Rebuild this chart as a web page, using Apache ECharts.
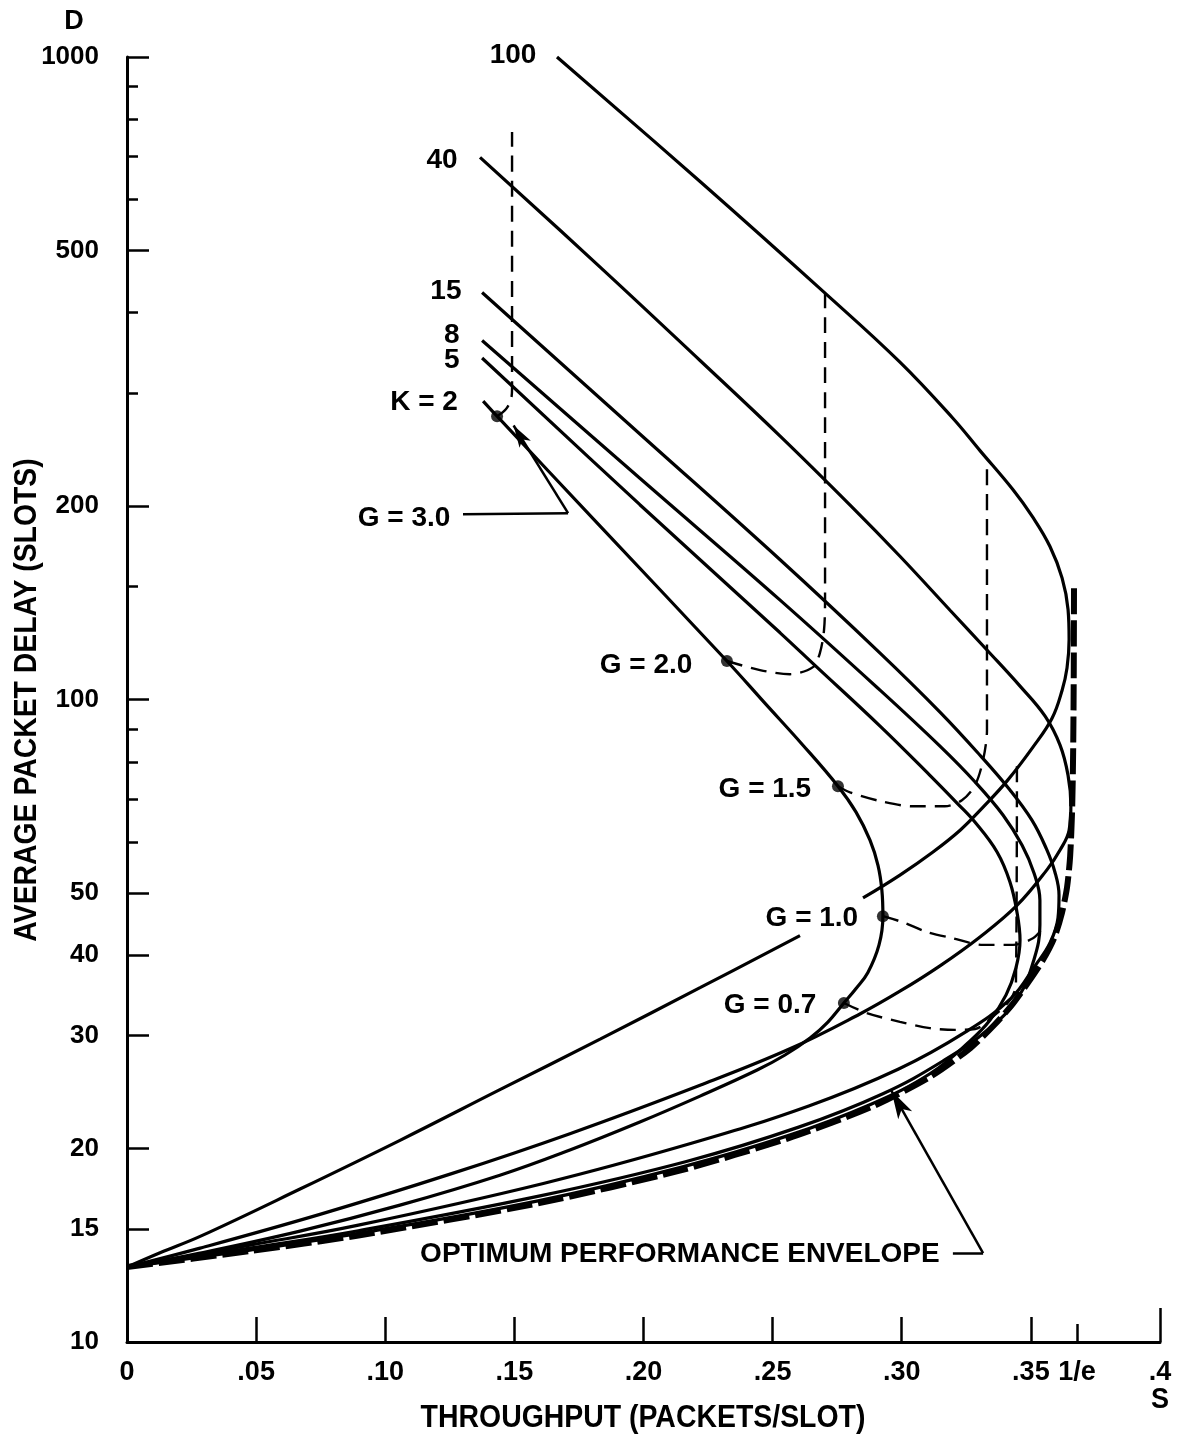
<!DOCTYPE html>
<html><head><meta charset="utf-8">
<script src="https://cdn.jsdelivr.net/npm/echarts@6/dist/echarts.min.js"></script>
<style>html,body{margin:0;padding:0;background:#fff}#c{width:1178px;height:1434px}</style>
</head><body><div id="c"></div>
<script>
// ---------- axis ticks / labels ----------
const X_TICKS = [0.05, 0.10, 0.15, 0.20, 0.25, 0.30, 0.35];
const X_LABEL_VALUES = [0, 0.05, 0.10, 0.15, 0.20, 0.25, 0.30, 0.35, 0.36788, 0.4];
const X_LABEL_TEXT = ['0', '.05', '.10', '.15', '.20', '.25', '.30', '.35', '1/e', '.4'];
const X_INV_E = [0.36788];
const X_END = [0.4];
const Y_MAJOR = [10, 15, 20, 30, 40, 50, 100, 200, 500, 1000];
const Y_MINOR = [60, 70, 80, 90, 150, 300, 400, 600, 700, 800, 900];

// ---------- curves: [S, D] ----------
const K100 = [[0.1665,1000],[0.2219,640],[0.2703,429],[0.2993,335],[0.3198,274],[0.3303,244],[0.3431,212],[0.3508,192],[0.3574,173],[0.3621,154.5],[0.3644,138],[0.3648,124],[0.3640,112],[0.3621,103.4],[0.3582,93.5],[0.3508,84.3],[0.3408,74.7],[0.3315,68.0],[0.3226,62.6],[0.3121,57.9],[0.2993,53.3],[0.2850,49.1],null,[0.2606,42.9],[0.2219,35.6],[0.1832,29.6],[0.1444,24.7],[0.1057,20.6],[0.0670,17.3],[0.0283,14.6],[0.0128,13.77],[0,13.08]];
const K40 = [[0.1367,698],[0.1832,471],[0.2219,337],[0.2529,257],[0.2800,200.7],[0.2993,167.1],[0.3187,137.7],[0.3330,119.4],[0.3458,104.9],[0.3555,94.2],[0.3613,84.9],[0.3644,76.2],[0.3655,68.5],[0.3648,62.6],[0.3613,58.3],[0.3562,54.3],[0.3446,47.8],[0.3303,42.7],[0.3148,38.5],[0.2993,35.15],[0.2838,32.4],[0.2567,28.6],[0.2219,25.1],[0.1715,21.1],[0.1251,18.25],[0.0747,15.8],[0.0283,14.0],[0,13.08]];
const K15 = [[0.1375,430],[0.1986,259],[0.2529,165],[0.2916,118.1],[0.3148,95.6],[0.3303,81.9],[0.3419,72.3],[0.3504,64.9],[0.3559,58.7],[0.3593,53.9],[0.3609,49.6],[0.3605,45.7],[0.3574,41.8],[0.3516,38.5],[0.3424,34.3],[0.3243,30.3],[0.2988,26.6],[0.2640,23.3],[0.2189,20.4],[0.1612,17.65],[0.0896,15.2],[0.0476,14.15],[0,13.08]];
const K8 = [[0.1375,362],[0.1986,221],[0.2529,142.8],[0.2916,103.4],[0.3148,84.6],[0.3284,74.4],[0.3392,66.1],[0.3466,59.3],[0.3512,53.7],[0.3535,48.7],[0.3535,44.6],[0.3513,39.5],[0.3451,34.4],[0.3337,30.7],[0.3161,27.4],[0.2927,24.35],[0.2601,21.6],[0.2166,19.1],[0.1604,16.9],[0.0896,14.9],[0.0476,14.0],[0,13.08]];
const K5 = [[0.1375,340],[0.1986,201],[0.2529,127],[0.2664,113.0],[0.2916,90.9],[0.3109,76.2],[0.3214,69.0],[0.3284,64.4],[0.3369,57.9],[0.3419,52.0],[0.3446,46.7],[0.3458,42.2],[0.3442,38.2],[0.3404,34.7],[0.3342,31.7],[0.3268,29.5],[0.3112,26.2],[0.2881,23.45],[0.2560,20.95],[0.2144,18.7],[0.1596,16.6],[0.0896,14.76],[0.0476,13.9],[0,13.08]];
const K2 = [[0.1379,291.3],[0.1433,276],[0.1832,186.1],[0.2323,114.8],[0.2470,98.7],[0.2614,85.2],[0.2753,73.3],[0.2823,66.8],[0.2877,60.4],[0.2908,55.2],[0.2923,50.5],[0.2927,46.0],[0.2912,41.5],[0.2869,37.6],[0.2823,35.5],[0.2776,33.7],[0.2714,31.47],[0.2645,29.72],[0.2548,27.97],[0.2440,26.5],[0.2219,24.14],[0.1986,22.0],[0.1715,19.9],[0.1444,18.18],[0.1057,16.33],[0.0670,14.88],[0.0283,13.75],[0,13.08]];
const ENVELOPE = [[0,13.08],[0.0476,13.85],[0.0896,14.65],[0.1596,16.45],[0.2144,18.5],[0.2560,20.75],[0.2881,23.2],[0.3112,25.9],[0.3267,28.7],[0.3360,31.2],[0.3430,33.6],[0.3490,36.3],[0.3545,39.2],[0.3590,42.5],[0.3620,46.5],[0.3640,51],[0.3652,57],[0.3660,68],[0.3664,85],[0.3666,110],[0.3667,151]];

// constant-G contours
const G30 = [[0.1433,276],[0.1467,283],[0.1487,293],[0.1491,305],[0.1491,764]];
const G20 = [[0.2323,114.8],[0.2451,111.1],[0.2567,109.5],[0.2656,112.3],[0.2683,118.1],[0.2699,128.2],[0.2703,142.8],[0.2703,429]];
const G15 = [[0.2753,73.3],[0.2800,71.7],[0.2916,69.5],[0.3044,68.2],[0.3167,68.2],[0.3233,69.7],[0.3284,73.6],[0.3315,80.5],[0.3330,89.6],[0.3330,230]];
const G10 = [[0.2927,46.0],[0.3005,45.0],[0.3098,43.45],[0.3198,42.5],[0.3315,41.5],[0.3431,41.5],[0.3508,42.5],[0.3547,44.1]];
const G07 = [[0.2776,33.7],[0.2865,32.5],[0.2993,31.5],[0.3109,30.8],[0.3206,30.6],[0.3284,30.7],[0.3361,32.3],[0.3419,34.05],[0.3442,35.9],[0.3446,79.1]];
const G_DOTS = [[0.1433,276],[0.2323,114.8],[0.2753,73.3],[0.2927,46.0],[0.2776,33.7]];

// pointers
const PTR_G3 = [[0.1301,194.3],[0.1708,195],[0.1497,267]];
const PTR_ENV = [[0.3198,13.75],[0.3315,13.75],[0.2960,24.6]];

// text annotations
const LABEL_TEXT = ['100','40','15','8','5','K = 2','G = 3.0','G = 2.0','G = 1.5','G = 1.0','G = 0.7','OPTIMUM PERFORMANCE ENVELOPE'];
const LABEL_AT = [[0.1495,1006],[0.1220,690],[0.1235,432],[0.1258,369],[0.1258,337],[0.1150,290],[0.1073,191.6],[0.2010,113.1],[0.2470,72.5],[0.2652,45.7],[0.2490,33.45],[0.2141,13.71]];

// ---------- chart ----------
const BOLD = "'Liberation Sans', Arial, sans-serif";
const chart = echarts.init(document.getElementById('c'), null, {renderer: 'canvas'});

function toData(arr) { return arr.map(p => p ? p : ['-', '-']); }
function solid(name, arr) {
  return {type: 'line', name, data: toData(arr), symbol: 'none', showSymbol: false, smooth: 0.4,
    connectNulls: false, clip: false, silent: true, z: 3,
    lineStyle: {color: '#000', width: 3.2}};
}
function dashed(name, arr) {
  return {type: 'line', name, data: toData(arr), symbol: 'none', showSymbol: false, smooth: 0.3,
    clip: false, silent: true, z: 2,
    lineStyle: {color: '#000', width: 2.4, type: [16, 9]}};
}
function pointer(arr, size) {
  return [
    [{coord: arr[0], symbol: 'none'}, {coord: arr[1], symbol: 'none'}],
    [{coord: arr[1], symbol: 'none'}, {coord: arr[2], symbol: 'arrow', symbolSize: size}]
  ];
}

const xLabelFmt = v => {
  let best = 0;
  X_LABEL_VALUES.forEach((x, i) => { if (Math.abs(x - v) < Math.abs(X_LABEL_VALUES[best] - v)) best = i; });
  return X_LABEL_TEXT[best];
};

const baseX = {type: 'value', min: 0, max: 0.4, position: 'bottom', splitLine: {show: false}};
const baseY = {type: 'log', logBase: 10, min: 10, max: 1000, position: 'left', splitLine: {show: false}};

const option = {
  animation: false,
  backgroundColor: '#fff',
  grid: {left: 127, right: 18, top: 57, bottom: 92},
  xAxis: [
    Object.assign({}, baseX, {
      axisLine: {show: true, onZero: false, lineStyle: {color: '#000', width: 3}},
      axisTick: {show: true, inside: true, length: 25, customValues: X_TICKS, lineStyle: {color: '#000', width: 2.5}},
      axisLabel: {show: true, customValues: X_LABEL_VALUES, formatter: xLabelFmt, margin: 17,
        color: '#000', fontFamily: BOLD, fontWeight: 'bold', fontSize: 27}
    }),
    Object.assign({}, baseX, {
      axisLine: {show: false, onZero: false},
      axisTick: {show: true, inside: true, length: 18, customValues: X_INV_E, lineStyle: {color: '#000', width: 2.5}},
      axisLabel: {show: false}
    }),
    Object.assign({}, baseX, {
      axisLine: {show: false, onZero: false},
      axisTick: {show: true, inside: true, length: 34, customValues: X_END, lineStyle: {color: '#000', width: 2.5}},
      axisLabel: {show: false}
    })
  ],
  yAxis: [
    Object.assign({}, baseY, {
      axisLine: {show: true, onZero: false, lineStyle: {color: '#000', width: 3}},
      axisTick: {show: true, inside: true, length: 22, customValues: Y_MAJOR, lineStyle: {color: '#000', width: 2.5}},
      axisLabel: {show: true, customValues: Y_MAJOR, formatter: v => String(Math.round(v)), margin: 28,
        color: '#000', fontFamily: BOLD, fontWeight: 'bold', fontSize: 26}
    }),
    Object.assign({}, baseY, {
      axisLine: {show: false, onZero: false},
      axisTick: {show: true, inside: true, length: 11, customValues: Y_MINOR, lineStyle: {color: '#000', width: 2.5}},
      axisLabel: {show: false}
    })
  ],
  graphic: [
    {type: 'text', x: 74, y: 22,
      style: {text: 'D', font: "bold 27px " + BOLD, fill: '#000', align: 'center', verticalAlign: 'middle'}},
    {type: 'text', x: 27, y: 700, rotation: Math.PI / 2, scaleX: 0.915,
      style: {text: 'AVERAGE PACKET DELAY (SLOTS)', font: "bold 31px " + BOLD, fill: '#000', align: 'center', verticalAlign: 'middle'}},
    {type: 'text', x: 643, y: 1418, scaleX: 0.917,
      style: {text: 'THROUGHPUT (PACKETS/SLOT)', font: "bold 31px " + BOLD, fill: '#000', align: 'center', verticalAlign: 'middle'}},
    {type: 'text', x: 1160, y: 1400, scaleX: 0.9,
      style: {text: 'S', font: "bold 30px " + BOLD, fill: '#000', align: 'center', verticalAlign: 'middle'}}
  ],
  series: [
    solid('K=100', K100), solid('K=40', K40), solid('K=15', K15),
    solid('K=8', K8), solid('K=5', K5), solid('K=2', K2),
    {type: 'line', name: 'envelope', data: ENVELOPE, symbol: 'none', smooth: 0.25, clip: false, silent: true, z: 4,
      lineStyle: {color: '#000', width: 6, type: [26, 6], cap: 'butt'}},
    dashed('G=3.0', G30), dashed('G=2.0', G20), dashed('G=1.5', G15), dashed('G=1.0', G10), dashed('G=0.7', G07),
    {type: 'scatter', name: 'G points', data: G_DOTS, symbol: 'circle', symbolSize: 12, z: 5, silent: true,
      itemStyle: {color: '#000'},
      markLine: {silent: true, animation: false, label: {show: false},
        lineStyle: {color: '#000', width: 2.5, type: 'solid'},
        data: pointer(PTR_G3, [10, 22]).concat(pointer(PTR_ENV, [12, 28]))}},
    {type: 'scatter', name: 'labels', clip: false, silent: true, symbolSize: 0, z: 6,
      itemStyle: {color: '#000', opacity: 0},
      data: LABEL_TEXT.map((t, i) => ({name: t, value: LABEL_AT[i]})),
      label: {show: true, position: 'inside', formatter: p => p.name, color: '#000', opacity: 1,
        textBorderWidth: 0, textBorderColor: 'transparent',
        fontFamily: BOLD, fontWeight: 'bold', fontSize: 28}}
  ]
};
chart.setOption(option);
</script></body></html>
